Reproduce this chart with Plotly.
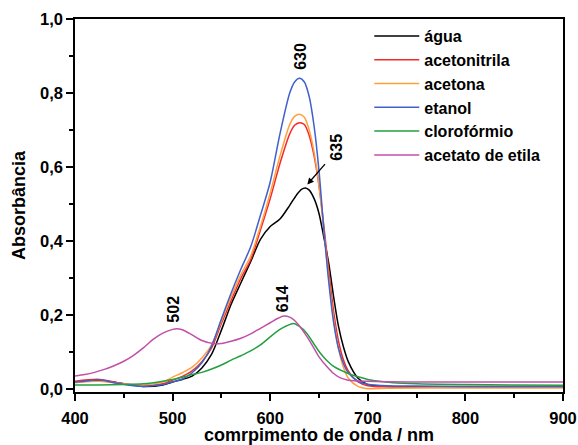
import plotly.graph_objects as go

# wavelength grids (nm) and absorbance values
wl_agua = [400, 425, 450, 470, 490, 500, 510, 520, 530, 540, 550, 560, 570, 580, 590, 600, 610, 620, 627, 632, 636, 640, 645, 650, 655, 660, 665, 670, 675, 680, 690, 700, 720, 800, 900]
abs_agua = [0.020, 0.025, 0.015, 0.008, 0.012, 0.020, 0.027, 0.036, 0.058, 0.095, 0.160, 0.230, 0.288, 0.345, 0.405, 0.440, 0.460, 0.497, 0.525, 0.540, 0.544, 0.538, 0.515, 0.475, 0.410, 0.340, 0.250, 0.170, 0.115, 0.075, 0.030, 0.013, 0.008, 0.007, 0.007]

wl_acn = [400, 425, 450, 470, 490, 500, 510, 520, 530, 540, 550, 560, 570, 580, 590, 600, 610, 620, 625, 630, 635, 640, 645, 650, 655, 660, 665, 670, 675, 680, 690, 700, 720, 800, 900]
abs_acn = [0.022, 0.027, 0.015, 0.010, 0.015, 0.025, 0.035, 0.050, 0.075, 0.112, 0.178, 0.240, 0.300, 0.350, 0.430, 0.515, 0.610, 0.690, 0.713, 0.720, 0.715, 0.685, 0.630, 0.550, 0.440, 0.320, 0.210, 0.130, 0.080, 0.050, 0.020, 0.010, 0.007, 0.008, 0.008]

wl_acetona = [400, 425, 450, 470, 490, 500, 510, 520, 530, 540, 550, 560, 570, 580, 590, 600, 610, 620, 625, 630, 635, 640, 645, 650, 655, 660, 665, 670, 675, 680, 690, 700, 720, 800, 900]
abs_acetona = [0.018, 0.022, 0.015, 0.012, 0.020, 0.033, 0.045, 0.060, 0.085, 0.120, 0.185, 0.250, 0.310, 0.360, 0.440, 0.530, 0.630, 0.715, 0.737, 0.743, 0.735, 0.700, 0.640, 0.550, 0.430, 0.300, 0.190, 0.110, 0.060, 0.030, 0.008, 0.002, 0.003, 0.004, 0.004]

wl_etanol = [400, 410, 425, 440, 460, 470, 480, 490, 500, 510, 520, 530, 540, 550, 560, 570, 580, 590, 600, 610, 620, 625, 630, 635, 640, 645, 650, 655, 660, 665, 670, 675, 680, 690, 700, 720, 750, 800, 850, 900]
abs_etanol = [0.020, 0.022, 0.026, 0.018, 0.010, 0.008, 0.010, 0.013, 0.020, 0.028, 0.045, 0.072, 0.118, 0.190, 0.260, 0.325, 0.385, 0.470, 0.560, 0.690, 0.800, 0.830, 0.840, 0.830, 0.790, 0.710, 0.590, 0.430, 0.290, 0.180, 0.110, 0.070, 0.045, 0.022, 0.014, 0.010, 0.009, 0.008, 0.008, 0.008]

wl_cloro = [400, 425, 450, 470, 490, 500, 510, 520, 530, 540, 550, 560, 570, 580, 590, 600, 610, 617, 624, 630, 637, 645, 651, 658, 665, 678, 690, 700, 726, 750, 800, 850, 900]
abs_cloro = [0.012, 0.012, 0.013, 0.015, 0.022, 0.027, 0.033, 0.040, 0.046, 0.055, 0.066, 0.079, 0.091, 0.104, 0.120, 0.142, 0.162, 0.172, 0.178, 0.170, 0.153, 0.122, 0.099, 0.078, 0.062, 0.045, 0.034, 0.027, 0.018, 0.015, 0.013, 0.012, 0.011]

wl_acoet = [400, 410, 420, 430, 440, 450, 460, 470, 480, 490, 500, 504, 510, 520, 530, 543, 550, 560, 570, 580, 590, 600, 608, 614, 620, 625, 630, 637, 644, 650, 658, 665, 672, 680, 700, 750, 800, 850, 900]
abs_acoet = [0.036, 0.040, 0.046, 0.054, 0.064, 0.076, 0.092, 0.112, 0.135, 0.152, 0.162, 0.164, 0.161, 0.147, 0.132, 0.123, 0.124, 0.130, 0.138, 0.150, 0.165, 0.180, 0.192, 0.198, 0.195, 0.186, 0.171, 0.145, 0.115, 0.088, 0.062, 0.043, 0.031, 0.025, 0.022, 0.020, 0.020, 0.020, 0.020]

series = [
    ("água", wl_agua, abs_agua, "#000000"),
    ("acetonitrila", wl_acn, abs_acn, "#f52a2a"),
    ("acetona", wl_acetona, abs_acetona, "#ffa040"),
    ("etanol", wl_etanol, abs_etanol, "#4060cc"),
    ("clorofórmio", wl_cloro, abs_cloro, "#22a040"),
    ("acetato de etila", wl_acoet, abs_acoet, "#c050a8"),
]

peak_labels = ["630", "635", "614", "502"]
peak_label_x = [631.6, 667.9, 612.6, 501.4]
peak_label_y = [0.898, 0.654, 0.245, 0.218]

FONT = "Liberation Sans, Arial, sans-serif"

fig = go.Figure()
for name, x, y, c in series:
    fig.add_trace(go.Scatter(x=x, y=y, mode="lines", name=name,
                             line=dict(color=c, width=1.5, shape="spline", smoothing=0.8)))

for t, x, y in zip(peak_labels, peak_label_x, peak_label_y):
    fig.add_annotation(x=x, y=y, text="<b>%s</b>" % t, showarrow=False, textangle=-90,
                       font=dict(family=FONT, size=16, color="black"))

# arrow pointing to the 635 maximum
fig.add_annotation(x=638, y=0.553, ax=19, ay=-22, text="", showarrow=True,
                   arrowhead=2, arrowsize=1, arrowwidth=1.3, arrowcolor="black")

axis_common = dict(showline=True, linecolor="black", linewidth=1.5, mirror=True,
                   ticks="outside", ticklen=7, tickwidth=1.5, tickcolor="black",
                   showgrid=False, zeroline=False, automargin=False,
                   tickfont=dict(family=FONT, size=16.5, color="black", weight="bold"))

fig.update_layout(
    width=578, height=445,
    margin=dict(l=75, r=15, t=19, b=53),
    paper_bgcolor="white", plot_bgcolor="white",
    separators=",.",
    showlegend=True,
    legend=dict(x=0.603, y=1.0, xanchor="left", yanchor="top", bgcolor="rgba(0,0,0,0)",
                font=dict(family=FONT, size=16, color="black", weight="bold"),
                itemwidth=45, tracegroupgap=0),
    xaxis=dict(range=[400, 900], tickvals=[400, 500, 600, 700, 800, 900],
               ticklabelstandoff=3,
               minor=dict(ticks="outside", ticklen=4, tickwidth=1.5, tickcolor="black", dtick=50, tick0=400),
               title=dict(text="comrpimento de onda / nm", standoff=5,
                          font=dict(family=FONT, size=18, color="black", weight="bold")),
               **axis_common),
    yaxis=dict(range=[-0.007, 1.0], tickvals=[0, 0.2, 0.4, 0.6, 0.8, 1.0], tickformat=".1f",
               minor=dict(ticks="outside", ticklen=4, tickwidth=1.5, tickcolor="black", dtick=0.1, tick0=0),
               title=dict(text="Absorbância", standoff=10,
                          font=dict(family=FONT, size=18, color="black", weight="bold")),
               **axis_common),
)

fig.write_html("out.html")
